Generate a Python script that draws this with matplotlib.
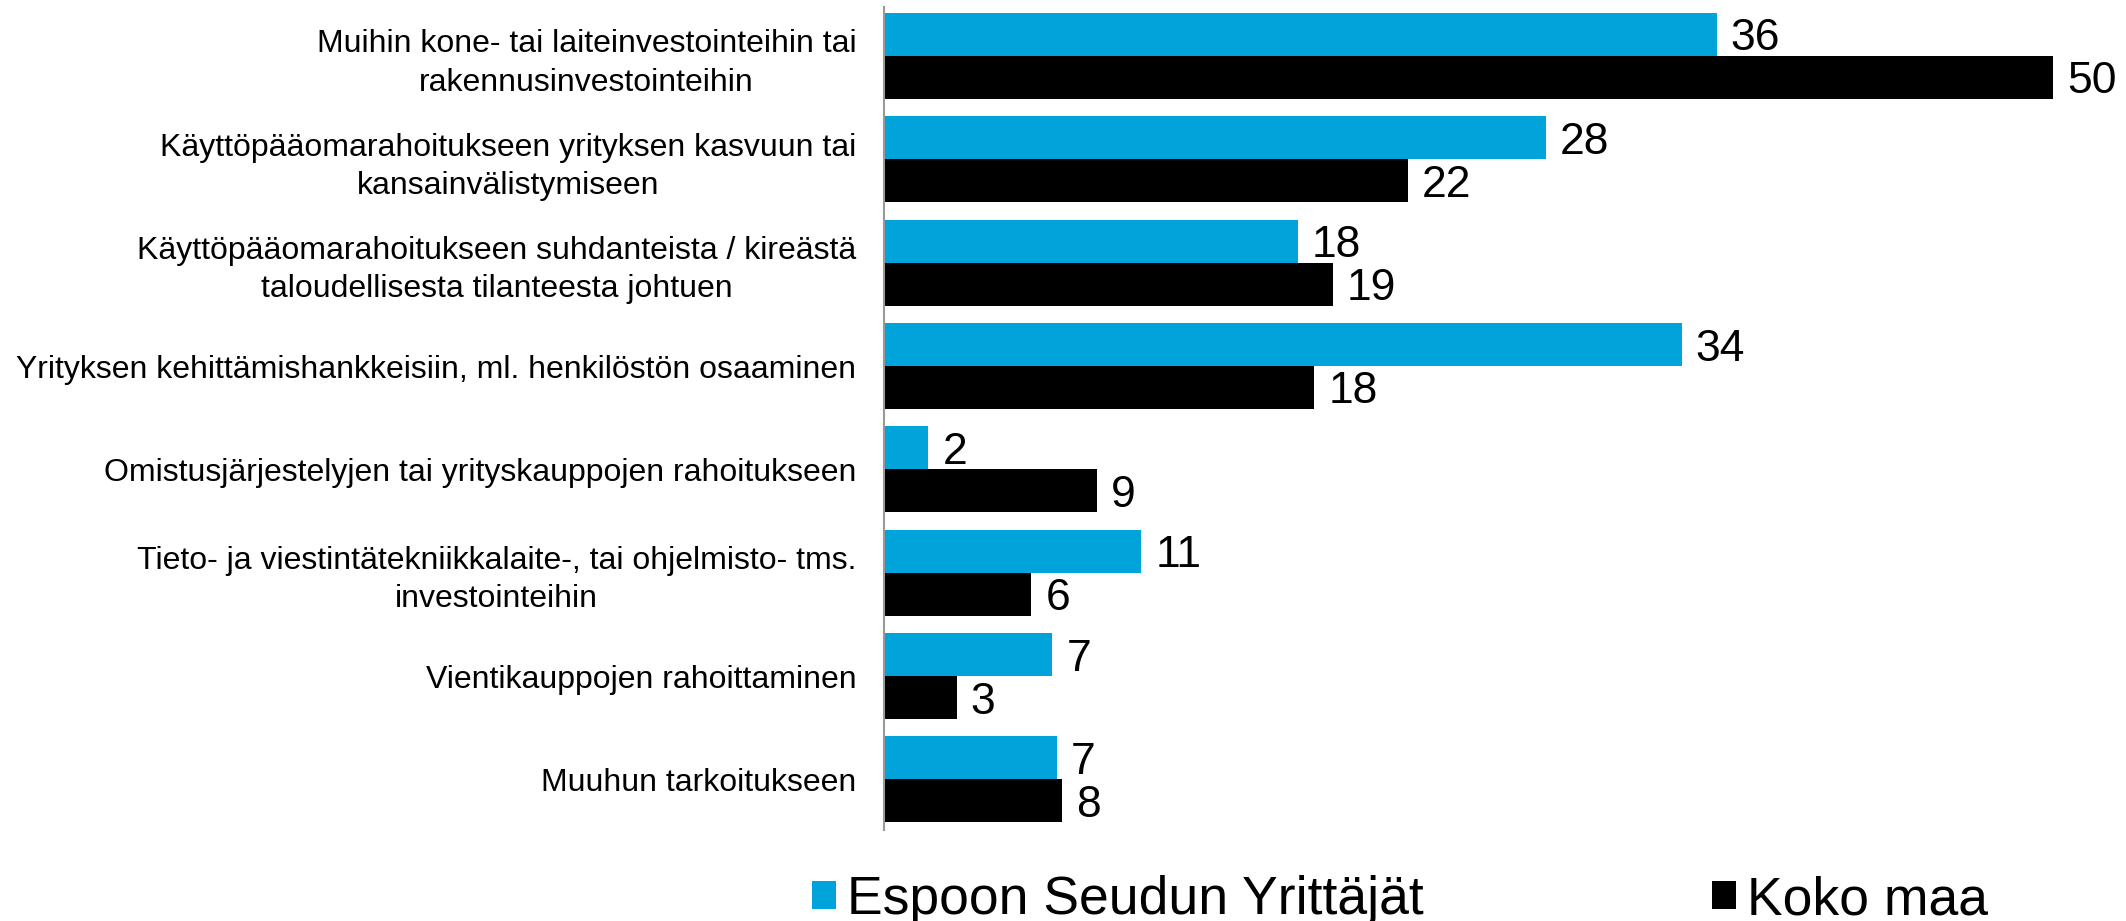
import matplotlib.pyplot as plt
import numpy as np

plt.rcParams['font.family'] = ['Liberation Sans', 'DejaVu Sans']

categories = [
    "Muihin kone- tai laiteinvestointeihin tai\nrakennusinvestointeihin",
    "Käyttöpääomarahoitukseen yrityksen kasvuun tai\nkansainvälistymiseen",
    "Käyttöpääomarahoitukseen suhdanteista / kireästä\ntaloudellisesta tilanteesta johtuen",
    "Yrityksen kehittämishankkeisiin, ml. henkilöstön osaaminen",
    "Omistusjärjestelyjen tai yrityskauppojen rahoitukseen",
    "Tieto- ja viestintätekniikkalaite-, tai ohjelmisto- tms.\ninvestointeihin",
    "Vientikauppojen rahoittaminen",
    "Muuhun tarkoitukseen",
]
espoo = [35.6, 28.3, 17.7, 34.1, 1.9, 11.0, 7.2, 7.4]
koko_maa = [50.0, 22.4, 19.2, 18.4, 9.1, 6.3, 3.1, 7.6]
series_names = ["Espoon Seudun Yrittäjät", "Koko maa"]

blue = "#00A3DA"

fig = plt.figure(figsize=(21.26, 9.21), dpi=100)
ax = fig.add_axes([884 / 2126, 1 - 830 / 921, 1 - 884 / 2126, (830 - 7) / 921])

y = np.arange(len(categories))
h = 0.416
b1 = ax.barh(y - h / 2, espoo, height=h, color=blue, label=series_names[0])
b2 = ax.barh(y + h / 2, koko_maa, height=h, color="black", label=series_names[1])

for bars, vals in ((b1, espoo), (b2, koko_maa)):
    for bar, v in zip(bars, vals):
        ax.text(bar.get_width() + 0.6, bar.get_y() + bar.get_height() / 2,
                f"{round(v):d}", va="center_baseline", ha="left", fontsize=32)

ax.set_xlim(0, 53.1)
ax.set_ylim(7.49, -0.474)
ax.set_yticks(y)
ax.set_yticklabels(categories, fontsize=23, multialignment="center", linespacing=1.35)
ax.tick_params(axis="y", length=0, pad=20)
ax.set_xticks([])
for s in ["top", "right", "bottom"]:
    ax.spines[s].set_visible(False)
ax.spines["left"].set_color("#999999")
ax.spines["left"].set_linewidth(1.5)

fig.legend(handles=[b1, b2], loc="center", bbox_to_anchor=(1400 / 2126, 1 - 900 / 921),
           ncol=2, frameon=False, fontsize=38.5, handlelength=0.45, handleheight=0.45,
           handletextpad=0.2, columnspacing=5.4)

fig.savefig("out.png", dpi=100)
